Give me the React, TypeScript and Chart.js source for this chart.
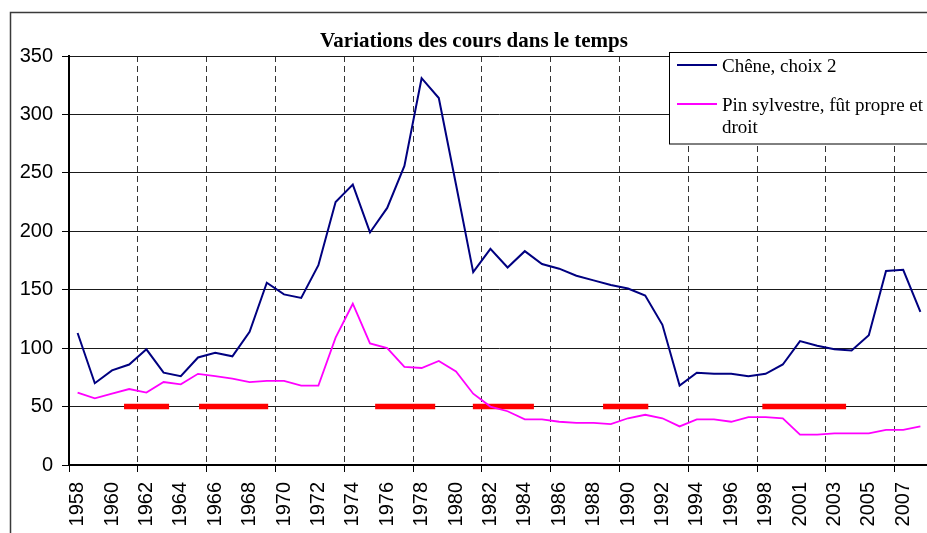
import React, { useEffect, useRef } from 'react';
import { Chart, registerables } from 'chart.js';

Chart.register(...registerables);

// ---------------- data ----------------
const TITLE = 'Variations des cours dans le temps';

const YEARS = [
  '1958', '1959', '1960', '1961', '1962', '1963', '1964', '1965', '1966', '1967',
  '1968', '1969', '1970', '1971', '1972', '1973', '1974', '1975', '1976', '1977',
  '1978', '1979', '1980', '1981', '1982', '1983', '1984', '1985', '1986', '1987',
  '1988', '1989', '1990', '1991', '1992', '1993', '1994', '1995', '1996', '1997',
  '1998', '1999', '2001', '2002', '2003', '2004', '2005', '2006', '2007', '2008',
];

const CHENE_LABEL = 'Chêne, choix 2';
const CHENE = [
  113, 70, 81, 86, 99, 79, 76, 92, 96, 93,
  114, 156, 146, 143, 171, 225, 240, 199, 220, 256,
  331, 314, 240, 165, 185, 169, 183, 172, 168, 162,
  158, 154, 151, 145, 120, 68, 79, 78, 78, 76,
  78, 86, 106, 102, 99, 98, 111, 166, 167, 131,
];

const PIN_LABEL = 'Pin sylvestre, fût propre et droit';
const PIN = [
  62, 57, 61, 65, 62, 71, 69, 78, 76, 74,
  71, 72, 72, 68, 68, 109, 138, 104, 100, 84,
  83, 89, 80, 61, 50, 46, 39, 39, 37, 36,
  36, 35, 40, 43, 40, 33, 39, 39, 37, 41,
  41, 40, 26, 26, 27, 27, 27, 30, 30, 33,
];

// red periods (fractional years), drawn at level 50
const PERIOD_STARTS = [1960.7, 1965.06, 1975.3, 1980.98, 1988.55, 1997.81];
const PERIOD_ENDS = [1963.32, 1969.08, 1978.79, 1984.53, 1991.18, 2003.68];
const PERIOD_LEVEL = 50;

const Y_MIN = 0;
const Y_MAX = 350;
const Y_STEP = 50;

// ---------------- helpers ----------------
function yearToPos(y: number): number {
  const base = Math.floor(y);
  let i = YEARS.indexOf(String(base));
  if (i < 0) i = YEARS.indexOf(String(base + 1)) - 1;
  return i + (y - base);
}

function periodPoints() {
  const pts: { x: number; y: number | null }[] = [];
  PERIOD_STARTS.forEach((s, k) => {
    const e = PERIOD_ENDS[k];
    pts.push({ x: yearToPos(s), y: PERIOD_LEVEL });
    pts.push({ x: yearToPos(e), y: PERIOD_LEVEL });
    pts.push({ x: yearToPos(e), y: null });
  });
  return pts;
}

const SANS = '"Liberation Sans", Arial, sans-serif';
const SERIF = '"Liberation Serif", "Times New Roman", serif';

const frameAndBg = {
  id: 'frameAndBg',
  beforeDraw(chart: any) {
    const ctx = chart.ctx;
    ctx.save();
    ctx.fillStyle = '#ffffff';
    ctx.fillRect(0, 0, chart.width, chart.height);
    ctx.strokeStyle = '#3a3a3a';
    ctx.lineWidth = 1.5;
    ctx.strokeRect(10.5, 12.5, chart.width, chart.height);
    ctx.restore();
  },
};

function wrap(ctx: CanvasRenderingContext2D, text: string, maxW: number): string[] {
  const words = text.split(' ');
  const lines: string[] = [];
  let cur = '';
  for (const w of words) {
    const t = cur ? cur + ' ' + w : w;
    if (cur && ctx.measureText(t).width > maxW) {
      lines.push(cur);
      cur = w;
    } else cur = t;
  }
  if (cur) lines.push(cur);
  return lines;
}

const boxLegend = {
  id: 'boxLegend',
  afterDraw(chart: any) {
    const ctx: CanvasRenderingContext2D = chart.ctx;
    const x0 = 669.5, y0 = 52.5, w = 320, h = 91.5;
    ctx.save();
    ctx.fillStyle = '#ffffff';
    ctx.fillRect(x0, y0, w, h);
    ctx.strokeStyle = '#000000';
    ctx.lineWidth = 1;
    ctx.strokeRect(x0, y0, w, h);
    ctx.font = '19px ' + SERIF;
    ctx.textAlign = 'left';
    ctx.textBaseline = 'alphabetic';
    const rowY = [65, 104];
    const items = chart.data.datasets.filter((d: any) => d.inLegend);
    items.forEach((d: any, k: number) => {
      const cy = rowY[k];
      ctx.strokeStyle = d.borderColor;
      ctx.lineWidth = 2;
      ctx.beginPath();
      ctx.moveTo(677, cy);
      ctx.lineTo(717, cy);
      ctx.stroke();
      ctx.fillStyle = '#000000';
      const lines = wrap(ctx, d.label, 205);
      lines.forEach((ln, j) => ctx.fillText(ln, 722, cy + 6.5 + j * 22));
    });
    ctx.restore();
  },
};

export default function App() {
  const ref = useRef<HTMLCanvasElement>(null);

  useEffect(() => {
    if (!ref.current) return;
    const chart = new Chart(ref.current, {
      type: 'line',
      data: {
        labels: YEARS,
        datasets: [
          {
            label: CHENE_LABEL,
            data: CHENE,
            borderColor: '#000080',
            borderWidth: 2,
            pointRadius: 0,
            tension: 0,
            fill: false,
            xAxisID: 'x',
            order: 0,
            inLegend: true,
          } as any,
          {
            label: PIN_LABEL,
            data: PIN,
            borderColor: '#ff00ff',
            borderWidth: 1.8,
            pointRadius: 0,
            tension: 0,
            fill: false,
            xAxisID: 'x',
            order: 0,
            inLegend: true,
          } as any,
          {
            label: 'périodes',
            data: periodPoints(),
            borderColor: '#ff0000',
            borderWidth: 5.5,
            borderCapStyle: 'butt',
            pointRadius: 0,
            tension: 0,
            spanGaps: false,
            fill: false,
            xAxisID: 'xr',
            order: 1,
            inLegend: false,
          } as any,
        ],
      },
      options: {
        responsive: false,
        devicePixelRatio: 1,
        animation: false,
        events: [],
        layout: { padding: { left: 19, right: 31, top: 28.8, bottom: 27 } },
        plugins: {
          legend: { display: false },
          tooltip: { enabled: false },
          title: {
            display: true,
            text: TITLE,
            color: '#000000',
            font: { family: SERIF, size: 21, weight: 'bold', lineHeight: 1.2 },
            padding: { top: 0, bottom: 2 },
          },
        },
        scales: {
          x: {
            type: 'category',
            offset: true,
            afterFit: (s: any) => { s.height = 68; },
            grid: {
              offset: true,
              color: (c: any) => (c.index > 0 && c.index % 4 === 0 ? '#333333' : 'rgba(0,0,0,0)'),
              lineWidth: 1,
              tickColor: (c: any) => (c.index % 4 === 0 ? '#000000' : 'rgba(0,0,0,0)'),
              tickLength: 7,
              tickWidth: 1,
            },
            border: { display: true, color: '#000000', width: 2, dash: [6, 4] },
            ticks: {
              autoSkip: false,
              minRotation: 90,
              maxRotation: 90,
              padding: 10,
              color: '#000000',
              font: { family: SANS, size: 20 },
              callback: (_v: any, i: number) => (i % 2 === 0 ? YEARS[i] : ''),
            },
          },
          xr: {
            type: 'linear',
            display: false,
            bounds: 'data',
            min: -0.5,
            max: YEARS.length - 0.5,
          },
          y: {
            min: Y_MIN,
            max: Y_MAX,
            afterFit: (s: any) => { s.width = 50; },
            grid: { color: '#1a1a1a', lineWidth: 1, tickColor: '#000000', tickLength: 7 },
            border: { display: true, color: '#000000', width: 2 },
            ticks: {
              stepSize: Y_STEP,
              padding: 9,
              color: '#000000',
              font: { family: SANS, size: 20 },
            },
          },
        },
      } as any,
      plugins: [frameAndBg, boxLegend],
    });
    return () => chart.destroy();
  }, []);

  return (
    <div
      style={{
        position: 'fixed',
        left: 0,
        top: 0,
        width: 927,
        height: 533,
        overflow: 'hidden',
        background: '#ffffff',
      }}
    >
      <canvas
        ref={ref}
        width={960}
        height={560}
        style={{ position: 'absolute', left: 0, top: 0, width: 960, height: 560 }}
      />
    </div>
  );
}
